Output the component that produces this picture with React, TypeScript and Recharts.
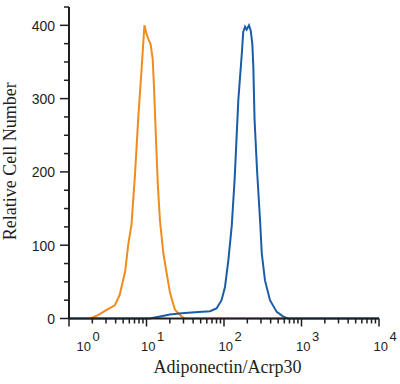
import { Label, Line, LineChart, XAxis, YAxis } from "recharts";

// isotype control (orange) and Adiponectin/Acrp30 stained cells (blue)
const orangeIntensity = [1.9, 2.4, 3.1, 3.9, 4.5, 5.3, 5.8, 6.4, 7.1, 7.8, 8.6, 9.4, 9.9, 10.5, 11.3, 12.0, 12.5, 13.2, 14.0, 14.9, 16.5, 18.2, 20.1, 23.3, 28.5, 31.4, 600];
const orangeCount = [0, 5, 12, 18, 32, 64, 100, 128, 196, 271, 337, 400, 390, 382, 374, 355, 316, 250, 183, 134, 89, 62, 35, 12, 2.5, 0, 0];

const blueIntensity = [1, 11, 15, 20, 28.5, 42, 66, 80, 93, 103, 114, 126, 137, 153, 171, 177, 187, 196, 210, 221, 232, 239, 248, 267, 292, 307, 338, 392, 479, 583, 670, 10000];
const blueCount = [0, 0, 2.7, 5.5, 7, 8.5, 10, 13.6, 25, 43, 80, 127, 189, 298, 366, 391, 398, 394, 400, 393, 375, 343, 271, 202, 134, 89, 52, 25, 9, 2.5, 0, 0];

const decades = [0, 1, 2, 3, 4];
const minorSteps = [2, 3, 4, 5, 6, 7, 8, 9];
const yTicks = [0, 25, 50, 75, 100, 125, 150, 175, 200, 225, 250, 275, 300, 325, 350, 375, 400, 425];

const orangeData = orangeIntensity.map((x, i) => ({ x, count: orangeCount[i] }));
const blueData = blueIntensity.map((x, i) => ({ x, count: blueCount[i] }));

const xTicks: number[] = [];
decades.forEach((d) => {
  xTicks.push(Math.pow(10, d));
  if (d < 4) minorSteps.forEach((m) => xTicks.push(m * Math.pow(10, d)));
});

const AXIS = "#1e1e1e";
const SANS = "'Liberation Sans', Arial, sans-serif";
const SERIF = "'Liberation Serif', 'Times New Roman', serif";

function XTick({ x, y, payload }: any) {
  const v = payload.value as number;
  const exp = Math.round(Math.log10(v));
  const major = Math.abs(Math.pow(10, exp) - v) < 1e-6;
  return (
    <g>
      <line x1={x} x2={x} y1={y} y2={y + (major ? 8 : 5)} stroke={AXIS} strokeWidth={1.5} />
      {major && (
        <text x={x - 5.5 + (exp === 0 ? 13 : 0)} y={y + 32.5} fontSize={13} fontFamily={SANS} fill={AXIS}>
          <tspan>10</tspan>
          <tspan dx={1.5} dy={-10}>{exp}</tspan>
        </text>
      )}
    </g>
  );
}

function YTick({ x, y, payload }: any) {
  const v = payload.value as number;
  const major = v % 100 === 0;
  return (
    <g>
      <line x1={x - (major ? 9 : 5)} x2={x} y1={y} y2={y} stroke={AXIS} strokeWidth={1.5} />
      {major && (
        <text x={x - 14} y={y + 5.5} textAnchor="end" fontSize={14} fontFamily={SANS} fill={AXIS}>
          {v}
        </text>
      )}
    </g>
  );
}

function YTitle({ viewBox }: any) {
  const cx = viewBox.x + 16;
  const cy = viewBox.y + viewBox.height / 2 - 1.5;
  return (
    <text x={cx} y={cy} transform={`rotate(-90 ${cx} ${cy})`} textAnchor="middle" fontSize={18} fontFamily={SERIF} fill={AXIS}>
      Relative Cell Number
    </text>
  );
}

function XTitle({ viewBox }: any) {
  const cx = viewBox.x + viewBox.width / 2 + 3.5;
  return (
    <text x={cx} y={viewBox.y + 54.5} textAnchor="middle" fontSize={18} fontFamily={SERIF} fill={AXIS}>
      Adiponectin/Acrp30
    </text>
  );
}

export default function App() {
  return (
    <div style={{ position: "absolute", left: 0, top: 0, background: "#fff" }}>
      <LineChart width={400} height={384} margin={{ top: 7, right: 21, bottom: 15.5, left: 0 }}>
        <XAxis
          dataKey="x"
          type="number"
          scale="log"
          domain={[1, 10000]}
          allowDataOverflow
          ticks={xTicks}
          interval={0}
          height={50}
          tickSize={0}
          tickMargin={0}
          tickLine={false}
          axisLine={{ stroke: AXIS, strokeWidth: 2 }}
          tick={<XTick />}
        >
          <Label content={<XTitle />} />
        </XAxis>
        <YAxis
          type="number"
          domain={[0, 425]}
          ticks={yTicks}
          interval={0}
          width={69}
          tickSize={0}
          tickMargin={0}
          tickLine={false}
          axisLine={{ stroke: AXIS, strokeWidth: 2 }}
          tick={<YTick />}
        >
          <Label content={<YTitle />} />
        </YAxis>
        <Line
          data={orangeData}
          dataKey="count"
          type="linear"
          stroke="#f08c1e"
          strokeWidth={2}
          dot={false}
          isAnimationActive={false}
        />
        <Line
          data={blueData}
          dataKey="count"
          type="linear"
          stroke="#1a5da6"
          strokeWidth={2}
          dot={false}
          isAnimationActive={false}
        />
      </LineChart>
    </div>
  );
}
